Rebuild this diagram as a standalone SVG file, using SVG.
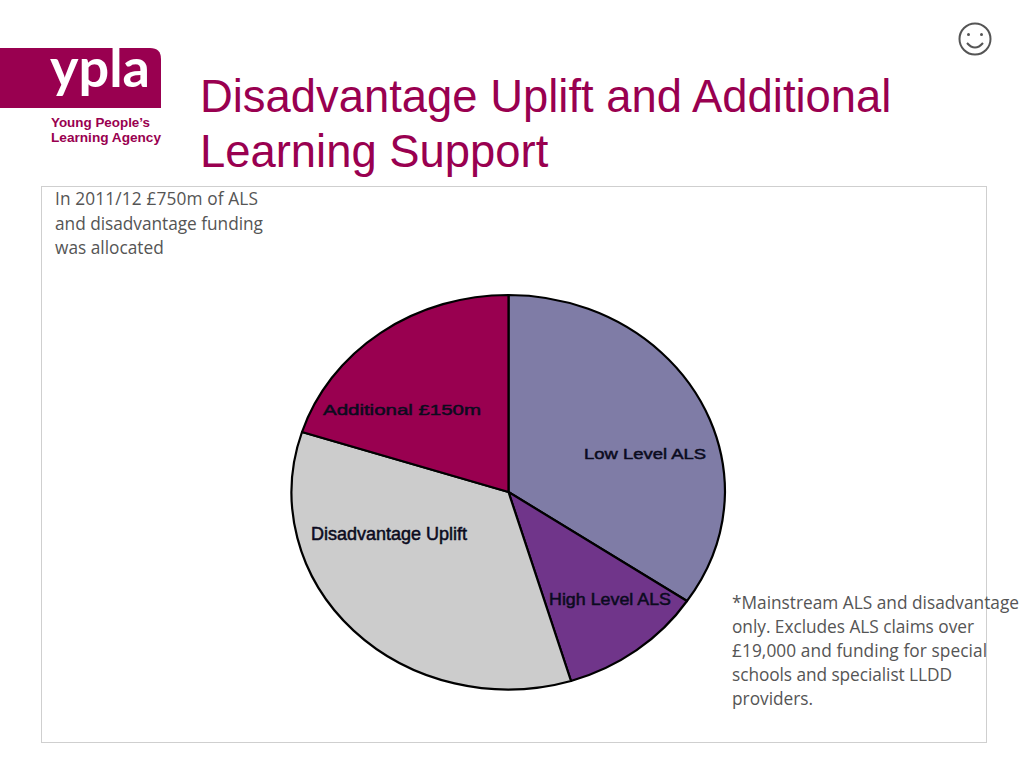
<svg xmlns="http://www.w3.org/2000/svg" width="1024" height="768" viewBox="0 0 1024 768">
<style>
.title{font-family:"Liberation Sans",Arial,sans-serif;font-size:45.400px;fill:#990050}
.body{font-family:"Open Sans","Noto Sans",sans-serif;font-size:17.300px;fill:#555}
.lbl{font-family:"Liberation Sans",Arial,sans-serif;fill:#0b0b1e;stroke:#0b0b1e;stroke-width:.5px}
.sl{stroke:#000;stroke-width:2.200;stroke-linejoin:round}
.tag{font-family:"Liberation Sans",Arial,sans-serif;font-weight:700;font-size:13px;fill:#990050}
</style>
<rect width="1024" height="768" fill="#fff"/>
<g id="logo">
<path d="M0 48H150Q161 48 161 59V108H0Z" fill="#990050"/>
<text x="50" y="87" font-family="Lato,'Open Sans',sans-serif" font-weight="700" font-size="54" fill="#fff" textLength="100" lengthAdjust="spacingAndGlyphs">ypla</text>
<text class="tag" x="51" y="127" textLength="99" lengthAdjust="spacingAndGlyphs">Young People’s</text>
<text class="tag" x="51" y="142" textLength="110" lengthAdjust="spacingAndGlyphs">Learning Agency</text>
</g>
<g id="smiley" fill="none" stroke="#555" stroke-width="2">
<circle cx="975" cy="39" r="15.500"/>
<path d="M967 43Q975 52 983 43"/>
<circle cx="968.500" cy="34.500" r="1.500" fill="#555" stroke="none"/>
<circle cx="981.500" cy="34.500" r="1.500" fill="#555" stroke="none"/>
</g>
<g id="title" class="title">
<text x="200" y="112">Disadvantage Uplift and Additional</text>
<text x="200" y="167">Learning Support</text>
</g>
<rect id="frame" x="41.500" y="186.500" width="945" height="556" fill="none" stroke="#cfcfcf" stroke-width="1"/>
<g id="note-top" class="body">
<text x="55" y="205" textLength="203">In 2011/12 £750m of ALS</text>
<text x="55" y="230" textLength="208">and disadvantage funding</text>
<text x="55" y="254">was allocated</text>
</g>
<g id="pie" class="sl">
<path id="low" d="M508.500 492V295A216.500 197 0 0 1 725 492A216.500 197 0 0 1 687 601Z" fill="#7f7ca6"/>
<path id="high" d="M508.500 492L687 601A216.500 197 0 0 1 571 681Z" fill="#70358a"/>
<path id="uplift" d="M508.500 492L571 681A216.500 197 0 0 1 302 432Z" fill="#cccccc"/>
<path id="additional" d="M508.500 492L302 432A216.500 197 0 0 1 508.500 295Z" fill="#990050"/>
</g>
<g id="labels" class="lbl">
<text x="323" y="415" font-size="15.500" textLength="158" lengthAdjust="spacingAndGlyphs">Additional £150m</text>
<text x="584" y="459" font-size="15.500" textLength="122" lengthAdjust="spacingAndGlyphs">Low Level ALS</text>
<text x="311" y="540" font-size="17.500" textLength="156" lengthAdjust="spacingAndGlyphs">Disadvantage Uplift</text>
<text x="549" y="605" font-size="16.500" textLength="122" lengthAdjust="spacingAndGlyphs">High Level ALS</text>
</g>
<g id="note-right" class="body">
<text x="732" y="609" textLength="287">*Mainstream ALS and disadvantage</text>
<text x="732" y="633" textLength="242">only. Excludes ALS claims over</text>
<text x="732" y="657" textLength="255">£19,000 and funding for special</text>
<text x="732" y="681" textLength="220">schools and specialist LLDD</text>
<text x="732" y="705">providers.</text>
</g>
</svg>
